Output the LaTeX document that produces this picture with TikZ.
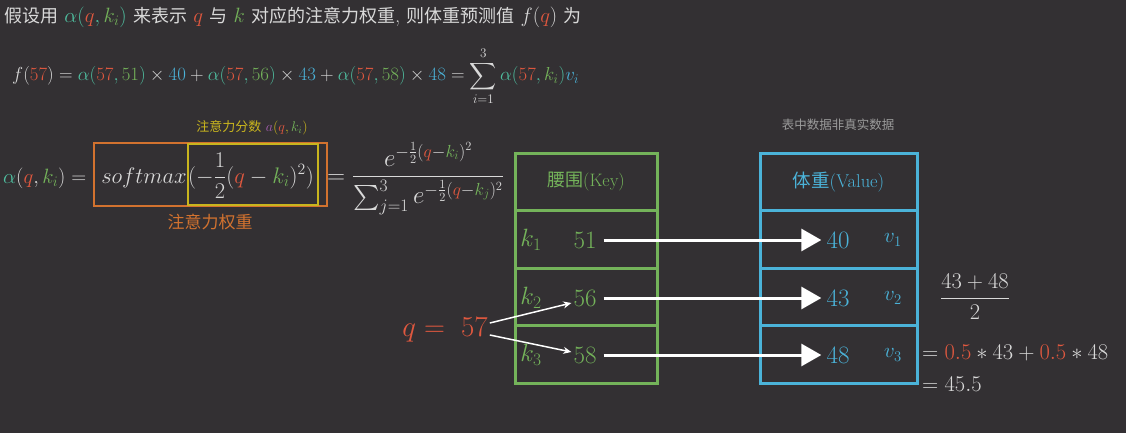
\RequirePackage{fix-cm}
\documentclass[tikz,border=0pt]{standalone}
\usepackage{fontspec}
\usepackage{amsmath,amssymb}
\usepackage{tikz}
\usetikzlibrary{arrows.meta,positioning,calc}
\newfontfamily\cjk{Noto Sans CJK SC}
\definecolor{bgc}{HTML}{333033}
\definecolor{fgc}{HTML}{D9D9D9}
\definecolor{cq}{HTML}{E0583F}
\definecolor{ck}{HTML}{74B35A}
\definecolor{cv}{HTML}{4BB3D9}
\definecolor{ca}{HTML}{4FBFA0}
\definecolor{cy}{HTML}{C9B51E}
\definecolor{co}{HTML}{D2722F}
\definecolor{cp}{HTML}{A55FB0}
\definecolor{cgray}{HTML}{9A9A9A}
\newcommand{\fsz}[1]{\fontsize{#1}{#1}\selectfont}
\newcommand{\zh}[1]{{\cjk\fontsize{18}{18}\selectfont #1}}
\newcommand{\mq}{\textcolor{cq}{q}}
\newcommand{\mk}[1]{\textcolor{ck}{k_{#1}}}
\newcommand{\mr}[1]{\textcolor{cq}{#1}}
\newcommand{\mg}[1]{\textcolor{ck}{#1}}
\newcommand{\mb}[1]{\textcolor{cv}{#1}}
\newcommand{\tcomma}{\mathpunct{\textcolor{ca}{,}}}

\begin{document}
\begin{tikzpicture}[x=1pt, y=-1pt, every node/.style={text=fgc, inner sep=2pt}, kcell/.style={draw=ck, line width=3pt, outer sep=0pt, minimum width=142pt, minimum height=57.5pt}, vcell/.style={draw=cv, line width=3pt, outer sep=0pt, minimum width=157pt, minimum height=57.5pt}, knum/.style={text=ck, font=\fsz{25}}, vnum/.style={text=cv, font=\fsz{25}}, arr/.style={-{Triangle[length=20pt,width=22pt]}, line width=3pt, white}, thinarr/.style={-{Stealth[length=8pt,width=7pt]}, line width=1.5pt, white}]
\fill[bgc] (0,0) rectangle (1126,433);
\useasboundingbox (0,0) rectangle (1126,433);
% text lines at the top
\node[anchor=west, font=\fsz{20.7}] (intro) at (2,17) {\zh{假设用} $\textcolor{ca}{\alpha(}\mq\tcomma\mk{i}\textcolor{ca}{)}$ \zh{来表示} $\mq$ \zh{与} $\textcolor{ck}{k}$ \zh{对应的注意力权重}, \zh{则体重预测值} $f(\mq)$ \zh{为}};
\node[anchor=west, font=\fsz{18.8}] (predict) at (10,76) {$f(\mr{57}) = \textcolor{ca}{\alpha(}\mr{57}\tcomma\mg{51}\textcolor{ca}{)}\times\mb{40} + \textcolor{ca}{\alpha(}\mr{57}\tcomma\mg{56}\textcolor{ca}{)}\times\mb{43} + \textcolor{ca}{\alpha(}\mr{57}\tcomma\mg{58}\textcolor{ca}{)}\times\mb{48} = \displaystyle\sum_{i=1}^{3}\textcolor{ca}{\alpha(}\mr{57}\tcomma\mk{i}\textcolor{ca}{)}\textcolor{cv}{v_i}$};
% softmax formula and its boxes
\node[anchor=base west, font=\fsz{20.7}] (alpha) at (1,183) {$\textcolor{ca}{\alpha}(\mq,\mk{i}) =$};
\node[anchor=base east, font=\fsz{22.5}] (softmax) at (189,183) {$softmax$};
\node[anchor=base west, font=\fsz{22.5}] (score) at (186,183) {$(-\dfrac{1}{2}(\mq-\mk{i})^2)$};
\node[anchor=base west, font=\fsz{25}] (ratio) at (325,183) {$=\dfrac{e^{-\frac{1}{2}(\mq-\mk{i})^2}}{\sum_{j=1}^{3}e^{-\frac{1}{2}(\mq-\mk{j})^2}}$};
\node[draw=co, line width=1.5pt, minimum width=233pt, minimum height=63pt] (weightbox) at (210.5,174.5) {};
\node[draw=cy, line width=1.5pt, minimum width=130pt, minimum height=61pt] (scorebox) at (253,174.5) {};
\node[text=cy, font=\fsz{14}] (scorelbl) at (252,128) {{\cjk\fsz{13}注意力分数} $\textcolor{cp}{a}(\mq,\mk{i})$};
\node[text=co, font=\fsz{17}] (weightlbl) at (210,222) {\cjk 注意力权重};
\node[text=cgray, font=\fsz{12.5}] (note) at (838,125) {\cjk 表中数据非真实数据};
% key table
\node[kcell] (khead) at (586,182) {};
\node[kcell, below=0pt of khead] (krow1) {};
\node[kcell, below=0pt of krow1] (krow2) {};
\node[kcell, below=0pt of krow2] (krow3) {};
\node[text=ck, font=\fsz{18}] (ktitle) at (khead) {{\cjk 腰围}(Key)};
\node[knum] (kname1) at (531,240) {$k_1$};
\node[knum] (kname2) at (531,298) {$k_2$};
\node[knum] (kname3) at (531,355) {$k_3$};
\node[knum] (key1) at (585,240) {51};
\node[knum] (key2) at (585,298) {56};
\node[knum] (key3) at (585,355) {58};
% value table
\node[vcell] (vhead) at (838.5,182) {};
\node[vcell, below=0pt of vhead] (vrow1) {};
\node[vcell, below=0pt of vrow1] (vrow2) {};
\node[vcell, below=0pt of vrow2] (vrow3) {};
\node[text=cv, font=\fsz{18.5}] (vtitle) at (vhead) {{\cjk 体重}(Value)};
\node[vnum] (val1) at (838,240) {40};
\node[vnum] (val2) at (838,298) {43};
\node[vnum] (val3) at (838,355) {48};
\node[text=cv, font=\fsz{21}] (vname1) at (893,240) {$v_1$};
\node[text=cv, font=\fsz{21}] (vname2) at (893,298) {$v_2$};
\node[text=cv, font=\fsz{21}] (vname3) at (893,355) {$v_3$};
% query
\node[text=cq, font=\fsz{29}] (query) at (445,330) {$q=\;57$};
% weighted average
\node[font=\fsz{22.5}] (avg) at (975,297) {$\dfrac{43+48}{2}$};
\node[anchor=west, font=\fsz{22.5}] (mix) at (920,353) {$=\mr{0.5}*43+\mr{0.5}*48$};
\node[anchor=west, font=\fsz{22.5}] (result) at (920,384) {$=45.5$};
% arrows
\draw[arr, shorten <=5pt, shorten >=3pt] (key1.east) -- (val1.west);
\draw[arr, shorten <=5pt, shorten >=3pt] (key2.east) -- (val2.west);
\draw[arr, shorten <=5pt, shorten >=3pt] (key3.east) -- (val3.west);
\draw[thinarr] ([yshift=7pt]query.east) -- ([yshift=-5pt]key2.west);
\draw[thinarr] ([yshift=-5pt]query.east) -- ([yshift=3pt]key3.west);
\end{tikzpicture}
\end{document}
